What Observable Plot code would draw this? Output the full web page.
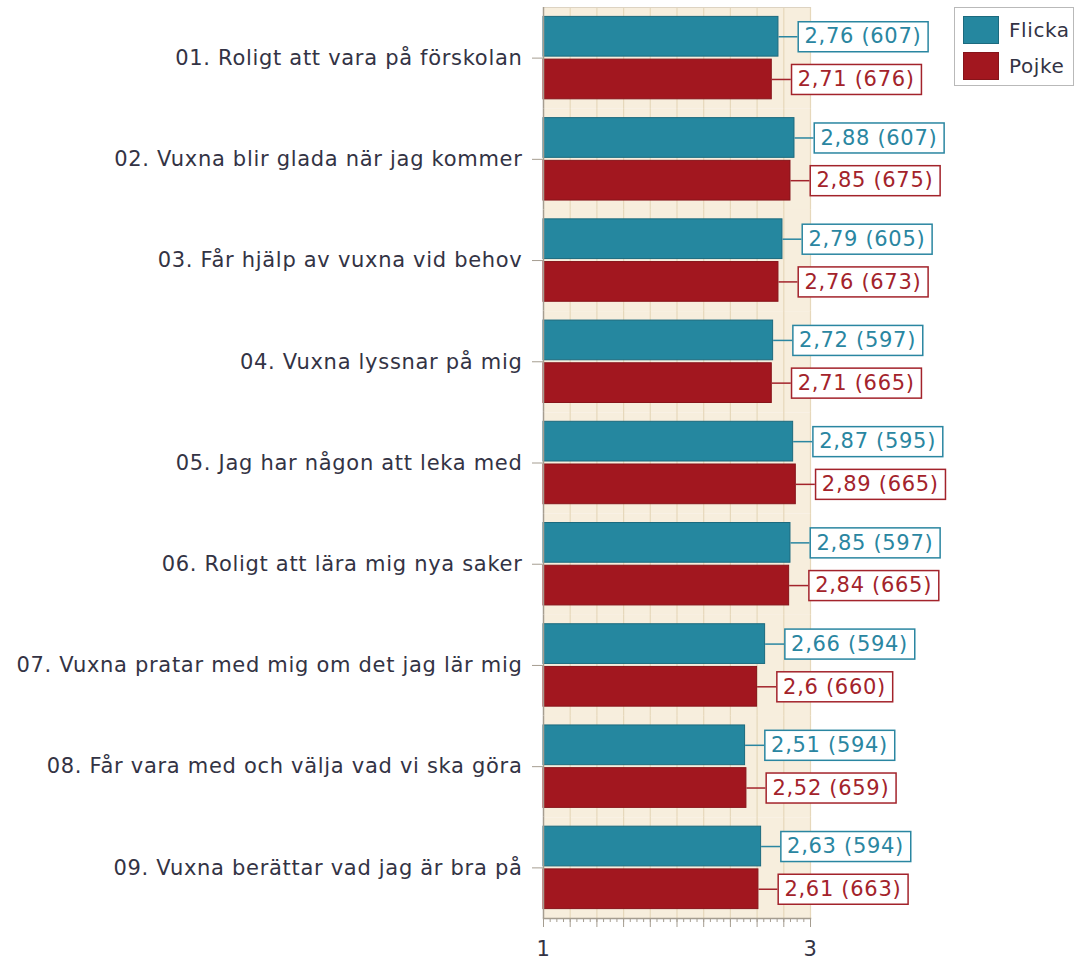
<!DOCTYPE html>
<html>
<head>
<meta charset="utf-8">
<script src="https://cdn.jsdelivr.net/npm/d3@7"></script>
<script src="https://cdn.jsdelivr.net/npm/@observablehq/plot@0.6"></script>
<style>
  html, body { margin: 0; padding: 0; background: #ffffff; }
  #wrap { position: relative; width: 1079px; height: 960px; overflow: hidden; }
  #legend {
    position: absolute; left: 954px; top: 7px; width: 120px; height: 79px;
    border: 1px solid #b9b9b9; background: #ffffff; box-sizing: border-box;
    font-family: "DejaVu Sans", sans-serif; font-size: 20px; letter-spacing: 0.6px; color: #333344;
  }
  .item { position: absolute; left: 8px; height: 29px; display: flex; align-items: center; }
  .sw { width: 36px; height: 28px; box-sizing: border-box; margin-right: 10px; }
</style>
</head>
<body>
<div id="wrap">
  <div id="chart"></div>
  <div id="legend"></div>
</div>
<script>
// ---- data ----
const categories = [
  "01. Roligt att vara på förskolan",
  "02. Vuxna blir glada när jag kommer",
  "03. Får hjälp av vuxna vid behov",
  "04. Vuxna lyssnar på mig",
  "05. Jag har någon att leka med",
  "06. Roligt att lära mig nya saker",
  "07. Vuxna pratar med mig om det jag lär mig",
  "08. Får vara med och välja vad vi ska göra",
  "09. Vuxna berättar vad jag är bra på"
];
const series = ["Flicka", "Pojke"];
const flickaValues = [2.76, 2.88, 2.79, 2.72, 2.87, 2.85, 2.66, 2.51, 2.63];
const flickaCounts = [607, 607, 605, 597, 595, 597, 594, 594, 594];
const pojkeValues  = [2.71, 2.85, 2.76, 2.71, 2.89, 2.84, 2.6, 2.52, 2.61];
const pojkeCounts  = [676, 675, 673, 665, 665, 665, 660, 659, 663];
const xTickLabels = [1, 3];

// ---- styles ----
const TEAL = "#25879f", TEAL_DARK = "#1c6a7e", TEAL_TEXT = "#2a86a1";
const RED = "#a2171f", RED_DARK = "#86141a", RED_TEXT = "#a3232b";
const PLOT_BG = "#f7eedd", GRID = "#e6d8bb", AXIS = "#a59d90", TEXT = "#333344";
const FONT_PX = 21, LS = 0.7;

const fmt = (v, n) => String(v).replace(".", ",") + " (" + n + ")";
const flickaRows = categories.map((c, i) => ({category: c, series: "Flicka", value: flickaValues[i], n: flickaCounts[i]}));
const pojkeRows = categories.map((c, i) => ({category: c, series: "Pojke", value: pojkeValues[i], n: pojkeCounts[i]}));

const gridTicks = d3.range(1, 11).map(i => 1 + i * 0.2);
const majorTicks = d3.range(0, 11).map(i => 1 + i * 0.2);
const minorTicks = d3.range(0, 41).map(i => 1 + i * 0.05);

const ctx = document.createElement("canvas").getContext("2d");
ctx.font = FONT_PX + "px 'DejaVu Sans'";
const textWidth = s => ctx.measureText(s).width + LS * s.length;

const GAP = 19, PADL = 6, PADR = 7, BOXH = 30;
const NS = "http://www.w3.org/2000/svg";
const boxed = color => function (index, scales, values, dimensions, context, next) {
  const g = next(index, scales, values, dimensions, context);
  g.querySelectorAll("text").forEach(el => {
    const tr = el.getAttribute("transform");
    el.setAttribute("x", GAP + PADL + 1);
    const w = textWidth(el.textContent) + PADL + PADR;
    const line = document.createElementNS(NS, "line");
    line.setAttribute("transform", tr);
    line.setAttribute("x1", 0); line.setAttribute("x2", GAP);
    line.setAttribute("y1", 0); line.setAttribute("y2", 0);
    line.setAttribute("stroke", color);
    line.setAttribute("stroke-width", 1.5);
    const rect = document.createElementNS(NS, "rect");
    rect.setAttribute("transform", tr);
    rect.setAttribute("x", GAP + 0.75);
    rect.setAttribute("y", -BOXH / 2);
    rect.setAttribute("width", w);
    rect.setAttribute("height", BOXH);
    rect.setAttribute("fill", "#ffffff");
    rect.setAttribute("stroke", color);
    rect.setAttribute("stroke-width", 1.5);
    g.insertBefore(line, el);
    g.insertBefore(rect, el);
  });
  return g;
};

const chart = Plot.plot({
  width: 1079,
  height: 960,
  marginLeft: 543,
  marginRight: 269,
  marginTop: 7,
  marginBottom: 42,
  style: {fontFamily: "'DejaVu Sans', sans-serif", fontSize: FONT_PX + "px", letterSpacing: LS + "px", background: "#ffffff", color: TEXT},
  x: {domain: [1, 3], axis: null},
  y: {domain: series, paddingInner: 0.07, paddingOuter: 0.22, round: false, axis: null},
  fy: {domain: categories, padding: 0, round: false, axis: null},
  marks: [
    Plot.frame({fill: PLOT_BG, stroke: null}),
    Plot.ruleX(gridTicks, {stroke: GRID, strokeWidth: 1.2}),
    Plot.frame({anchor: "top", facetAnchor: "top", stroke: "#ddd3c2"}),
    Plot.barX(flickaRows, {fy: "category", y: "series", x1: 1, x2: "value", fill: TEAL, stroke: TEAL_DARK, strokeWidth: 1}),
    Plot.barX(pojkeRows, {fy: "category", y: "series", x1: 1, x2: "value", fill: RED, stroke: RED_DARK, strokeWidth: 1}),
    Plot.ruleX([1], {stroke: AXIS, strokeWidth: 1.5}),
    Plot.frame({anchor: "bottom", facetAnchor: "bottom", stroke: AXIS, strokeWidth: 1.5}),
    Plot.text(flickaRows, {fy: "category", y: "series", x: "value", text: d => fmt(d.value, d.n), fill: TEAL_TEXT, textAnchor: "start", render: boxed(TEAL_TEXT)}),
    Plot.text(pojkeRows, {fy: "category", y: "series", x: "value", text: d => fmt(d.value, d.n), fill: RED_TEXT, textAnchor: "start", render: boxed(RED_TEXT)}),
    Plot.axisFy({anchor: "left", tickSize: 11, tickPadding: 10, label: null, fill: TEXT, stroke: AXIS}),
    Plot.axisX(minorTicks, {anchor: "bottom", tickSize: 4, tickFormat: () => "", stroke: AXIS, label: null}),
    Plot.axisX(majorTicks, {anchor: "bottom", tickSize: 9, tickFormat: () => "", stroke: AXIS, label: null}),
    Plot.axisX(xTickLabels, {anchor: "bottom", tickSize: 9, tickPadding: 14, fontSize: 21, tickFormat: d => String(d), fill: TEXT, stroke: AXIS, label: null})
  ]
});
document.getElementById("chart").append(chart);

// legend
const legend = document.getElementById("legend");
[["Flicka", TEAL, TEAL_DARK, 7], ["Pojke", RED, RED_DARK, 43]].forEach(([name, fill, stroke, top]) => {
  const item = document.createElement("div");
  item.className = "item";
  item.style.top = top + "px";
  const sw = document.createElement("div");
  sw.className = "sw";
  sw.style.background = fill;
  sw.style.border = "1px solid " + stroke;
  const label = document.createElement("span");
  label.textContent = name;
  item.append(sw, label);
  legend.append(item);
});
</script>
</body>
</html>
